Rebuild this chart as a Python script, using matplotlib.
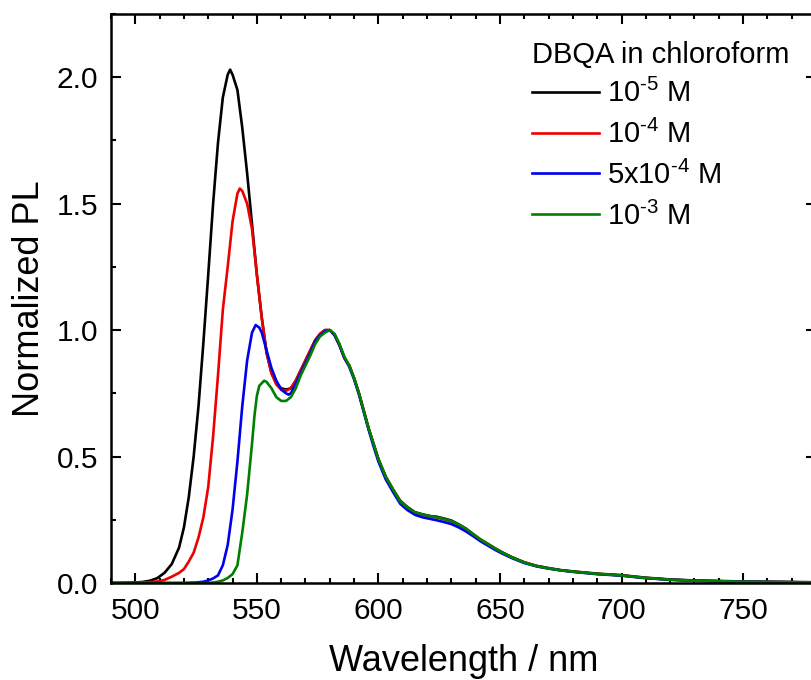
import matplotlib
matplotlib.use("Agg")
import matplotlib.pyplot as plt
from matplotlib.ticker import MultipleLocator

plt.rcParams['font.family'] = ['Liberation Sans', 'DejaVu Sans']
plt.rcParams['mathtext.fontset'] = 'custom'
plt.rcParams['mathtext.rm'] = 'Liberation Sans'
plt.rcParams['mathtext.it'] = 'Liberation Sans:italic'
plt.rcParams['mathtext.bf'] = 'Liberation Sans:bold'

# ---- data ----
wl_1e5 = [490, 495, 500, 503, 506, 509, 512, 515, 518, 520, 522, 524, 526, 528, 530,
          532, 534, 536, 538, 539, 540, 542, 544, 546, 548, 550, 552, 554, 556, 558,
          560, 562, 564, 566, 568, 570, 572, 574, 576, 578, 580, 582, 584, 586, 588,
          590, 592, 594, 596, 598, 600, 603, 606, 609, 612, 615, 618, 621, 624, 627,
          630, 633, 636, 639, 642, 645, 648, 651, 655, 660, 665, 670, 675, 680, 690,
          700, 710, 720, 730, 740, 750, 760, 770, 780]
pl_1e5 = [0.0, 0.0, 0.002, 0.004, 0.009, 0.019, 0.04, 0.075, 0.14, 0.22, 0.34, 0.50, 0.70, 0.95, 1.22,
          1.50, 1.74, 1.92, 2.01, 2.03, 2.01, 1.95, 1.80, 1.62, 1.42, 1.22, 1.05, 0.91, 0.83, 0.79,
          0.77, 0.765, 0.77, 0.80, 0.84, 0.88, 0.92, 0.96, 0.985, 1.0, 1.0, 0.98, 0.94, 0.89, 0.86,
          0.81, 0.75, 0.68, 0.61, 0.55, 0.49, 0.42, 0.37, 0.325, 0.30, 0.28, 0.272, 0.265, 0.262, 0.255,
          0.247, 0.232, 0.215, 0.193, 0.172, 0.155, 0.137, 0.121, 0.102, 0.082, 0.068, 0.059, 0.051, 0.046, 0.037,
          0.031, 0.021, 0.014, 0.010, 0.008, 0.006, 0.005, 0.004, 0.003]

wl_1e4 = [490, 500, 505, 509, 512, 515, 518, 520, 522, 524, 526, 528, 530, 532, 534,
          536, 538, 540, 542, 543, 544, 546, 548, 550, 552, 554, 556, 558, 560, 562,
          564, 566, 568, 570, 572, 574, 576, 578, 580, 582, 584, 586, 588, 590, 592,
          594, 596, 598, 600, 603, 606, 609, 612, 615, 618, 621, 624, 627, 630, 633,
          636, 639, 642, 645, 648, 651, 655, 660, 665, 670, 675, 680, 690, 700, 710,
          720, 730, 740, 750, 760, 770, 780]
pl_1e4 = [0.0, 0.001, 0.003, 0.006, 0.012, 0.025, 0.04, 0.055, 0.085, 0.12, 0.18, 0.26, 0.38, 0.58, 0.82,
          1.08, 1.25, 1.43, 1.54, 1.56, 1.55, 1.50, 1.40, 1.22, 1.05, 0.91, 0.83, 0.785, 0.765, 0.76,
          0.77, 0.80, 0.84, 0.88, 0.92, 0.96, 0.985, 1.0, 1.0, 0.98, 0.94, 0.89, 0.86, 0.81, 0.75,
          0.68, 0.61, 0.55, 0.49, 0.42, 0.37, 0.322, 0.297, 0.279, 0.27, 0.264, 0.259, 0.252, 0.243, 0.23,
          0.213, 0.192, 0.171, 0.153, 0.136, 0.12, 0.101, 0.081, 0.067, 0.058, 0.05, 0.045, 0.036, 0.03,
          0.02, 0.013, 0.009, 0.007, 0.005, 0.004, 0.003, 0.002]

wl_5e4 = [490, 520, 525, 528, 530, 532, 534, 536, 538, 540, 542, 544, 546, 548, 549.5,
          551, 552, 554, 556, 558, 560, 562, 563, 564, 566, 568, 570, 572, 574, 576,
          578, 580, 582, 584, 586, 588, 590, 592, 594, 596, 598, 600, 603, 606, 609,
          612, 615, 618, 621, 624, 627, 630, 633, 636, 639, 642, 645, 648, 651, 655,
          660, 665, 670, 675, 680, 690, 700, 710, 720, 730, 740, 750, 760, 770, 780]
pl_5e4 = [0.0, 0.0, 0.002, 0.005, 0.01, 0.018, 0.03, 0.07, 0.15, 0.29, 0.48, 0.70, 0.88, 0.99, 1.02,
          1.01, 0.99, 0.92, 0.85, 0.80, 0.765, 0.75, 0.745, 0.75, 0.79, 0.83, 0.87, 0.91, 0.955, 0.98,
          0.995, 1.0, 0.98, 0.94, 0.89, 0.855, 0.805, 0.745, 0.675, 0.605, 0.54, 0.48, 0.41, 0.36, 0.313,
          0.288, 0.27, 0.26, 0.254, 0.248, 0.241, 0.233, 0.22, 0.204, 0.185, 0.165, 0.148, 0.131, 0.116, 0.098,
          0.079, 0.066, 0.057, 0.05, 0.044, 0.035, 0.029, 0.019, 0.013, 0.009, 0.007, 0.005, 0.004, 0.003, 0.002]

wl_1e3 = [490, 525, 530, 532, 534, 536, 538, 540, 542, 544, 546, 548, 549, 550, 551,
          553, 554, 556, 558, 560, 562, 564, 566, 568, 570, 572, 574, 576, 578, 580,
          582, 584, 586, 588, 590, 592, 594, 596, 598, 600, 603, 606, 609, 612, 615,
          618, 621, 624, 627, 630, 633, 636, 639, 642, 645, 648, 651, 655, 660, 665,
          670, 675, 680, 690, 700, 710, 720, 730, 740, 750, 760, 770, 780]
pl_1e3 = [0.0, 0.0, 0.0, 0.002, 0.005, 0.01, 0.02, 0.035, 0.07, 0.20, 0.35, 0.55, 0.66, 0.74, 0.78,
          0.80, 0.795, 0.77, 0.735, 0.72, 0.72, 0.735, 0.77, 0.82, 0.86, 0.90, 0.945, 0.975, 0.99, 1.0,
          0.985, 0.945, 0.895, 0.86, 0.81, 0.75, 0.68, 0.61, 0.55, 0.49, 0.42, 0.37, 0.322, 0.298, 0.28,
          0.271, 0.265, 0.26, 0.253, 0.245, 0.232, 0.215, 0.193, 0.172, 0.154, 0.136, 0.12, 0.101, 0.081, 0.067,
          0.058, 0.05, 0.045, 0.036, 0.03, 0.02, 0.013, 0.009, 0.007, 0.005, 0.004, 0.003, 0.002]

labels = ['10$^{\u2010 5}$ M', '10$^{\u2010 4}$ M', '5x10$^{\u2010 4}$ M', '10$^{\u2010 3}$ M']
colors = ['#000000', '#ee0000', '#0000ee', '#008000']
legend_title = 'DBQA in chloroform'

# ---- figure ----
fig = plt.figure(figsize=(8.11, 6.80), dpi=100)
ax = fig.add_axes([111/811, 1 - 583/680, (816 - 111)/811, (583 - 14)/680])

series = [(wl_1e5, pl_1e5), (wl_1e4, pl_1e4), (wl_5e4, pl_5e4), (wl_1e3, pl_1e3)]
for (x, y), lab, c in zip(series, labels, colors):
    ax.plot(x, y, color=c, lw=1.9, label=lab)

ax.set_xlim(490, 780)
ax.set_ylim(0, 2.25)
ax.xaxis.set_major_locator(MultipleLocator(50))
ax.xaxis.set_minor_locator(MultipleLocator(10))
ax.yaxis.set_major_locator(MultipleLocator(0.5))
ax.yaxis.set_minor_locator(MultipleLocator(0.25))
ax.yaxis.set_major_formatter(matplotlib.ticker.FormatStrFormatter('%.1f'))

ax.tick_params(which='both', direction='in', top=True, right=True, width=1.5, labelsize=21.5)
ax.tick_params(which='major', length=7)
ax.tick_params(which='minor', length=3.8)
ax.tick_params(axis='x', pad=10)
ax.tick_params(axis='y', pad=9)
for s in ax.spines.values():
    s.set_linewidth(1.8)

ax.set_xlabel('Wavelength / nm', fontsize=26, labelpad=14)
ax.set_ylabel('Normalized PL', fontsize=26, labelpad=7)

leg = ax.legend(title=legend_title, loc='upper left', bbox_to_anchor=(532/811, 1 - 41/680),
                bbox_transform=fig.transFigure, frameon=False, fontsize=21,
                title_fontsize=21, handlelength=2.3, handletextpad=0.28,
                labelspacing=0.4, borderpad=0, borderaxespad=0, alignment='left')
leg._legend_box.sep = 7

fig.savefig('out.png', dpi=100)
